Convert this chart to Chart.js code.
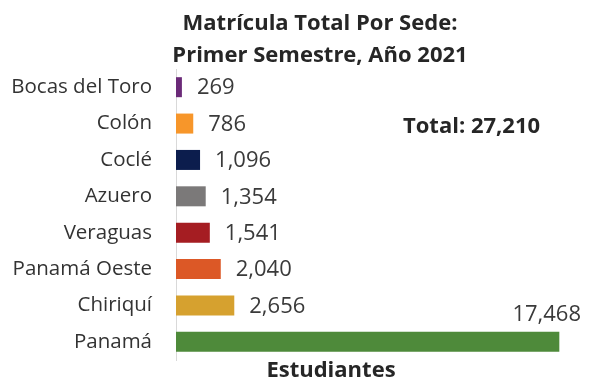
<!DOCTYPE html>
<html>
<head>
<meta charset="utf-8">
<script src="https://cdn.jsdelivr.net/npm/chart.js@4"></script>
<style>
  html, body { margin: 0; padding: 0; background: #fff; }
  canvas { display: block; }
</style>
</head>
<body>
<canvas id="grafico" width="595" height="381"></canvas>
<script>
// ── DADOS
const SEDES = ['Bocas del Toro', 'Colón', 'Coclé', 'Azuero', 'Veraguas', 'Panamá Oeste', 'Chiriquí', 'Panamá'];
const MATRICULA = [269, 786, 1096, 1354, 1541, 2040, 2656, 17468];
const CORES = ['#6b2a78', '#f7962a', '#0c1d4d', '#7b7979', '#a51d22', '#dc5826', '#d6a12f', '#4e8a3a'];
const TITULO = ['Matrícula Total Por Sede:', 'Primer Semestre, Año 2021'];
const TOTAL_TXT = 'Total: 27,210';
const EIXO_X = 'Estudiantes';

const FONTE = '"Open Sans", sans-serif';
const fmt = v => v.toLocaleString('en-US');

// textos fixos + rótulos de valor
const textos = {
  id: 'textos',
  afterDatasetsDraw(chart) {
    const { ctx, chartArea } = chart;
    ctx.save();
    ctx.fillStyle = '#262626';
    ctx.textAlign = 'center';
    ctx.textBaseline = 'middle';
    ctx.font = 'bold 22px ' + FONTE;
    ctx.fillText(TITULO[0], 320, 24);
    ctx.fillText(TITULO[1], 320, 56);

    ctx.fillText(EIXO_X, 331, 371);

    ctx.textAlign = 'left';
    ctx.fillText(TOTAL_TXT, 403, 127);

    // valores das barras
    ctx.fillStyle = '#3a3a3a';
    ctx.font = '22px ' + FONTE;
    const meta = chart.getDatasetMeta(0);
    meta.data.forEach((bar, i) => {
      const txt = fmt(MATRICULA[i]);
      if (i === MATRICULA.length - 1) {
        // não cabe à direita: vai por cima da ponta da barra
        ctx.textAlign = 'right';
        ctx.fillText(txt, chartArea.right + 10, bar.y - 27);
      } else {
        ctx.textAlign = 'left';
        ctx.fillText(txt, bar.x + 15, bar.y + 1);
      }
    });
    ctx.restore();
  }
};

new Chart(document.getElementById('grafico'), {
  type: 'bar',
  data: {
    labels: SEDES,
    datasets: [{
      data: MATRICULA,
      backgroundColor: CORES,
      barPercentage: 0.55,
      categoryPercentage: 1
    }]
  },
  options: {
    indexAxis: 'y',
    responsive: false,
    animation: false,
    layout: { padding: { top: 69, bottom: 21, right: 24, left: 0 } },
    plugins: { legend: { display: false }, tooltip: { enabled: false } },
    scales: {
      x: { display: false, min: 0, max: 18000 },
      y: {
        // largura fixa do eixo e sem folga extra em cima/baixo
        afterFit: s => { s.width = 176; s.paddingTop = 0; s.paddingBottom = 0; },
        grid: { drawOnChartArea: false, drawTicks: false },
        border: { color: '#d9d9d9', width: 1 },
        ticks: { padding: 24, color: '#333333', font: { family: FONTE, size: 20.5 } }
      }
    }
  },
  plugins: [textos]
});
</script>
</body>
</html>
